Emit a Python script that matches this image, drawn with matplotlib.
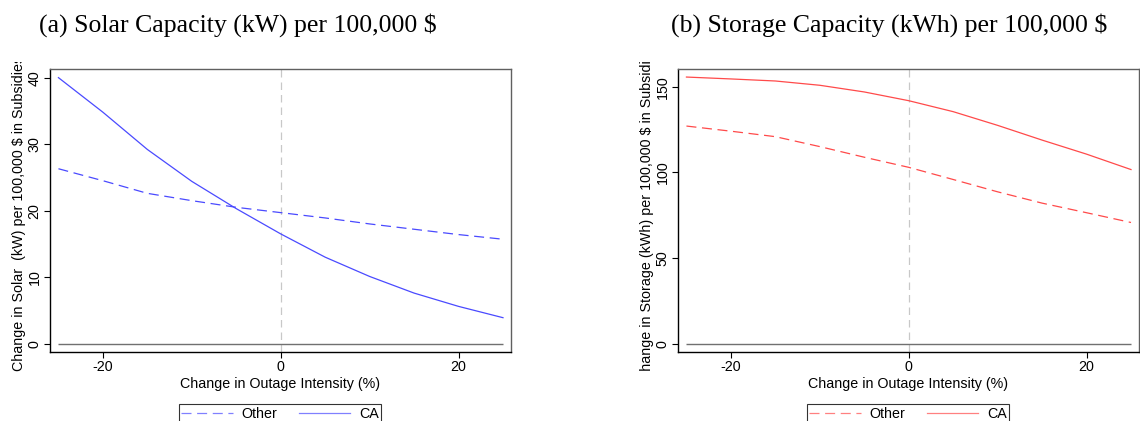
import numpy as np
import matplotlib
matplotlib.use('Agg')
import matplotlib.pyplot as plt
from matplotlib.transforms import Bbox, TransformedBbox

plt.rcParams['font.family'] = ['Liberation Sans', 'DejaVu Sans']
plt.rcParams['axes.unicode_minus'] = False

# outage intensity change (%)
outage = np.array([-25, -20, -15, -10, -5, 0, 5, 10, 15, 20, 25])

# solar capacity (kW) per 100,000 $
solar_other = np.array([26.3, 24.5, 22.6, 21.5, 20.5, 19.7, 18.9, 18.0, 17.2, 16.4, 15.7])
solar_ca = np.array([40.0, 34.8, 29.2, 24.4, 20.3, 16.5, 13.0, 10.1, 7.6, 5.6, 3.9])

# storage capacity (kWh) per 100,000 $
storage_other = np.array([127.0, 124.0, 120.8, 115.0, 108.8, 102.9, 95.8, 88.6, 82.0, 76.4, 70.7])
storage_ca = np.array([155.6, 154.5, 153.3, 150.8, 146.9, 141.8, 135.4, 127.4, 118.8, 110.6, 101.6])

blue = '#4a4aff'
red = '#ff4a4a'
fs = 10.3

fig = plt.figure(figsize=(11.4, 4.21), dpi=100)
W, H = 1140, 421


def make_panel(left_px, y_other, y_ca, color, ylim, yticks, ylabel, title, title_x):
    ax = fig.add_axes([left_px / W, 1 - 352 / H, 461 / W, 283 / H])
    ax.axvline(0, color='#c8c8c8', lw=0.9, ls=(0, (6, 4)), zorder=1)
    ax.hlines(0, outage.min(), outage.max(), color='#707070', lw=1.0, zorder=2)
    ax.plot(outage, y_other, color=color, lw=0.9, ls=(0, (8, 4.5)), label='Other', zorder=3)
    ax.plot(outage, y_ca, color=color, lw=0.9, label='CA', zorder=3)
    ax.set_xlim(-25.95, 25.9)
    ax.set_ylim(*ylim)
    ax.set_xticks([-20, 0, 20])
    ax.set_yticks(yticks)
    ax.tick_params(direction='out', length=4, width=0.8, labelsize=fs, pad=2)
    for lab in ax.get_yticklabels():
        lab.set_rotation(90)
        lab.set_va('center')
    ax.spines['left'].set_color('black')
    ax.spines['bottom'].set_color('black')
    ax.spines['top'].set_color('#606060')
    ax.spines['right'].set_color('#606060')
    for sp in ax.spines.values():
        sp.set_linewidth(1.0)
    ax.set_xlabel('Change in Outage Intensity (%)', fontsize=fs, labelpad=2)

    # y label, clipped like the original
    cx = (left_px - 31) / W
    lab = fig.text(cx, 1 - 213 / H, ylabel, rotation=90, ha='center', va='center',
                   fontsize=fs, clip_on=True)
    clip = Bbox([[cx - 0.02, 1 - 372 / H], [cx + 0.02, 1 - 62 / H]])
    lab.set_clip_box(TransformedBbox(clip, fig.transFigure))

    fig.text(title_x / W, 1 - 25 / H, title, ha='center', va='center',
             fontsize=18.5, family=['Liberation Serif', 'DejaVu Serif'])

    leg = ax.legend(loc='upper center', bbox_to_anchor=((left_px + 230) / W, 1 - 404 / H),
                    bbox_transform=fig.transFigure, ncol=2, frameon=True, fancybox=False,
                    edgecolor='black', fontsize=fs, handlelength=3.6, handletextpad=0.6,
                    columnspacing=1.5, borderpad=0.2, borderaxespad=0)
    leg.get_frame().set_linewidth(0.8)
    for h in leg.get_lines():
        h.set_alpha(0.7)
    return ax


make_panel(50, solar_other, solar_ca, blue, (-1.26, 41.3), [0, 10, 20, 30, 40],
           'Change in Solar  (kW) per 100,000 $ in Subsidies',
           '(a) Solar Capacity (kW) per 100,000 $', 238)
make_panel(678, storage_other, storage_ca, red, (-4.9, 160.3), [0, 50, 100, 150],
           'Change in Storage (kWh) per 100,000 $ in Subsidies',
           '(b) Storage Capacity (kWh) per 100,000 $', 889)

fig.savefig('out.png', dpi=100)
